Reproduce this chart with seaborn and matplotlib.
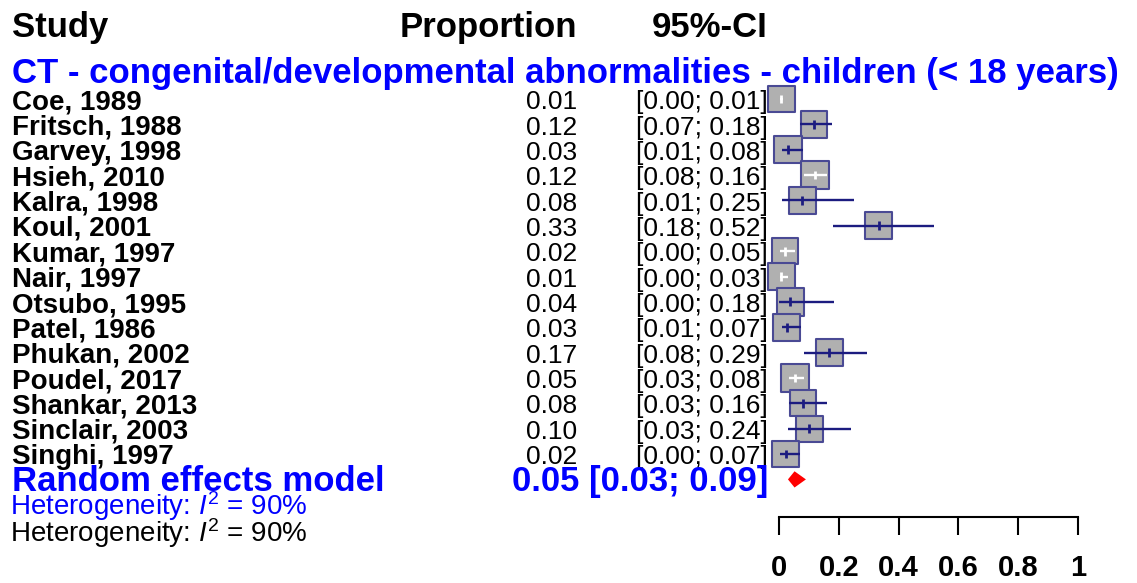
import numpy as np
import pandas as pd
import matplotlib
matplotlib.use("Agg")
import matplotlib.pyplot as plt
import seaborn as sns

# study data (proportion and 95% CI)
studies = ["Coe, 1989", "Fritsch, 1988", "Garvey, 1998", "Hsieh, 2010", "Kalra, 1998",
           "Koul, 2001", "Kumar, 1997", "Nair, 1997", "Otsubo, 1995", "Patel, 1986",
           "Phukan, 2002", "Poudel, 2017", "Shankar, 2013", "Sinclair, 2003", "Singhi, 1997"]
est = [0.007, 0.118, 0.030, 0.120, 0.078, 0.333, 0.020, 0.008, 0.038, 0.026,
       0.168, 0.054, 0.081, 0.102, 0.022]
lower = [0.002, 0.071, 0.010, 0.084, 0.010, 0.180, 0.004, 0.002, 0.001, 0.010,
         0.083, 0.033, 0.034, 0.030, 0.003]
upper = [0.013, 0.178, 0.081, 0.162, 0.252, 0.517, 0.052, 0.031, 0.183, 0.074,
         0.293, 0.082, 0.160, 0.241, 0.070]
weights = [6.8, 6.7, 6.9, 6.9, 6.9, 6.8, 6.7, 6.8, 6.9, 6.8, 6.8, 6.9, 6.7, 6.7, 6.7]

re_est, re_lower, re_upper = 0.052, 0.030, 0.090
i2 = 90
subgroup = "CT - congenital/developmental abnormalities - children (< 18 years)"
xticks = [0, 0.2, 0.4, 0.6, 0.8, 1]

df = pd.DataFrame({"study": studies, "est": est, "lower": lower,
                   "upper": upper, "weight": weights})
df["row"] = np.arange(len(df))

sns.set_theme(style="white")
plt.rcParams["font.family"] = ["Liberation Sans", "DejaVu Sans"]
plt.rcParams["text.color"] = "black"
plt.rcParams["mathtext.fontset"] = "custom"
plt.rcParams["mathtext.rm"] = "Liberation Sans"
plt.rcParams["mathtext.it"] = "Liberation Sans:italic"

W, H = 1137, 583
fig = plt.figure(figsize=(W / 100, H / 100), dpi=100)
ax = fig.add_axes([0, 0, 1, 1])

# pixel layout: x=0 at px 779, x=1 at px 1078; row 0 at px 99, 25.36 px per row
X0, XS = 779, 299
Y0, YS = 99, 25.36
def px_x(p):
    return (p - X0) / XS
def px_y(p):
    return (p - Y0) / YS

navy = "#1c1c80"
blue = "#0000ff"
half = 13.75 / XS  # half box width in data units

sns.scatterplot(data=df, x="est", y="row", size="weight", sizes=(360, 390),
                marker="s", color="#b0b0b0", edgecolor="#4a4a94", linewidth=1.5,
                legend=False, ax=ax, zorder=2)

inside = (df["lower"] >= df["est"] - half) & (df["upper"] <= df["est"] + half)
line_cols = np.where(inside, "white", navy)
ax.hlines(df["row"], df["lower"], df["upper"], colors=line_cols, lw=1.7, zorder=3)
ax.scatter(df["est"], df["row"], marker="|", s=40, c=line_cols, linewidths=2, zorder=4)

# random effects diamond
re_row = len(df)
dh = 0.32
ax.fill([re_lower, re_est, re_upper, re_est], [re_row, re_row - dh, re_row, re_row + dh],
        color="red", lw=0, zorder=3)

ax.set_xlim(px_x(0), px_x(W))
ax.set_ylim(px_y(H), px_y(0))
ax.axis("off")

# header
ax.text(px_x(12), px_y(37), "Study", fontsize=25, fontweight="bold", va="baseline")
ax.text(px_x(577), px_y(37), "Proportion", fontsize=25, fontweight="bold",
        va="baseline", ha="right")
ax.text(px_x(768), px_y(37), "95%-CI", fontsize=25, fontweight="bold",
        va="baseline", ha="right")
ax.text(px_x(12), px_y(83), subgroup, fontsize=25, fontweight="bold",
        color=blue, va="baseline")

for _, r in df.iterrows():
    yb = r["row"] + 0.4
    ax.text(px_x(12), yb, r["study"], fontsize=20, fontweight="bold", va="baseline")
    ax.text(px_x(577), yb, f"{r['est']:.2f}", fontsize=19, va="baseline", ha="right")
    ax.text(px_x(768), yb, f"[{r['lower']:.2f}; {r['upper']:.2f}]", fontsize=19,
            va="baseline", ha="right")

yb = re_row + 0.47
ax.text(px_x(12), yb, "Random effects model", fontsize=25, fontweight="bold",
        color=blue, va="baseline")
ax.text(px_x(768), yb, f"{re_est:.2f} [{re_lower:.2f}; {re_upper:.2f}]", fontsize=25,
        fontweight="bold", color=blue, va="baseline", ha="right")
ax.text(px_x(10), px_y(515), f"Heterogeneity: $I^2$ = {i2}%", fontsize=20,
        color=blue, va="baseline")
ax.text(px_x(10), px_y(542), f"Heterogeneity: $I^2$ = {i2}%", fontsize=20,
        color="black", va="baseline")

# x axis below the plot
axx = fig.add_axes([X0 / W, (H - 517) / H, XS / W, 0.01])
axx.set_xlim(0, 1)
axx.set_yticks([])
for s in ["top", "left", "right"]:
    axx.spines[s].set_visible(False)
axx.spines["bottom"].set_linewidth(1.5)
axx.spines["bottom"].set_color("black")
axx.set_xticks(xticks)
axx.set_xticklabels(["0", "0.2", "0.4", "0.6", "0.8", "1"], fontsize=21, fontweight="bold")
axx.tick_params(axis="x", direction="out", length=13, width=1.5, pad=14,
                bottom=True, colors="black")
axx.patch.set_alpha(0)

fig.savefig("out.png", dpi=100)
